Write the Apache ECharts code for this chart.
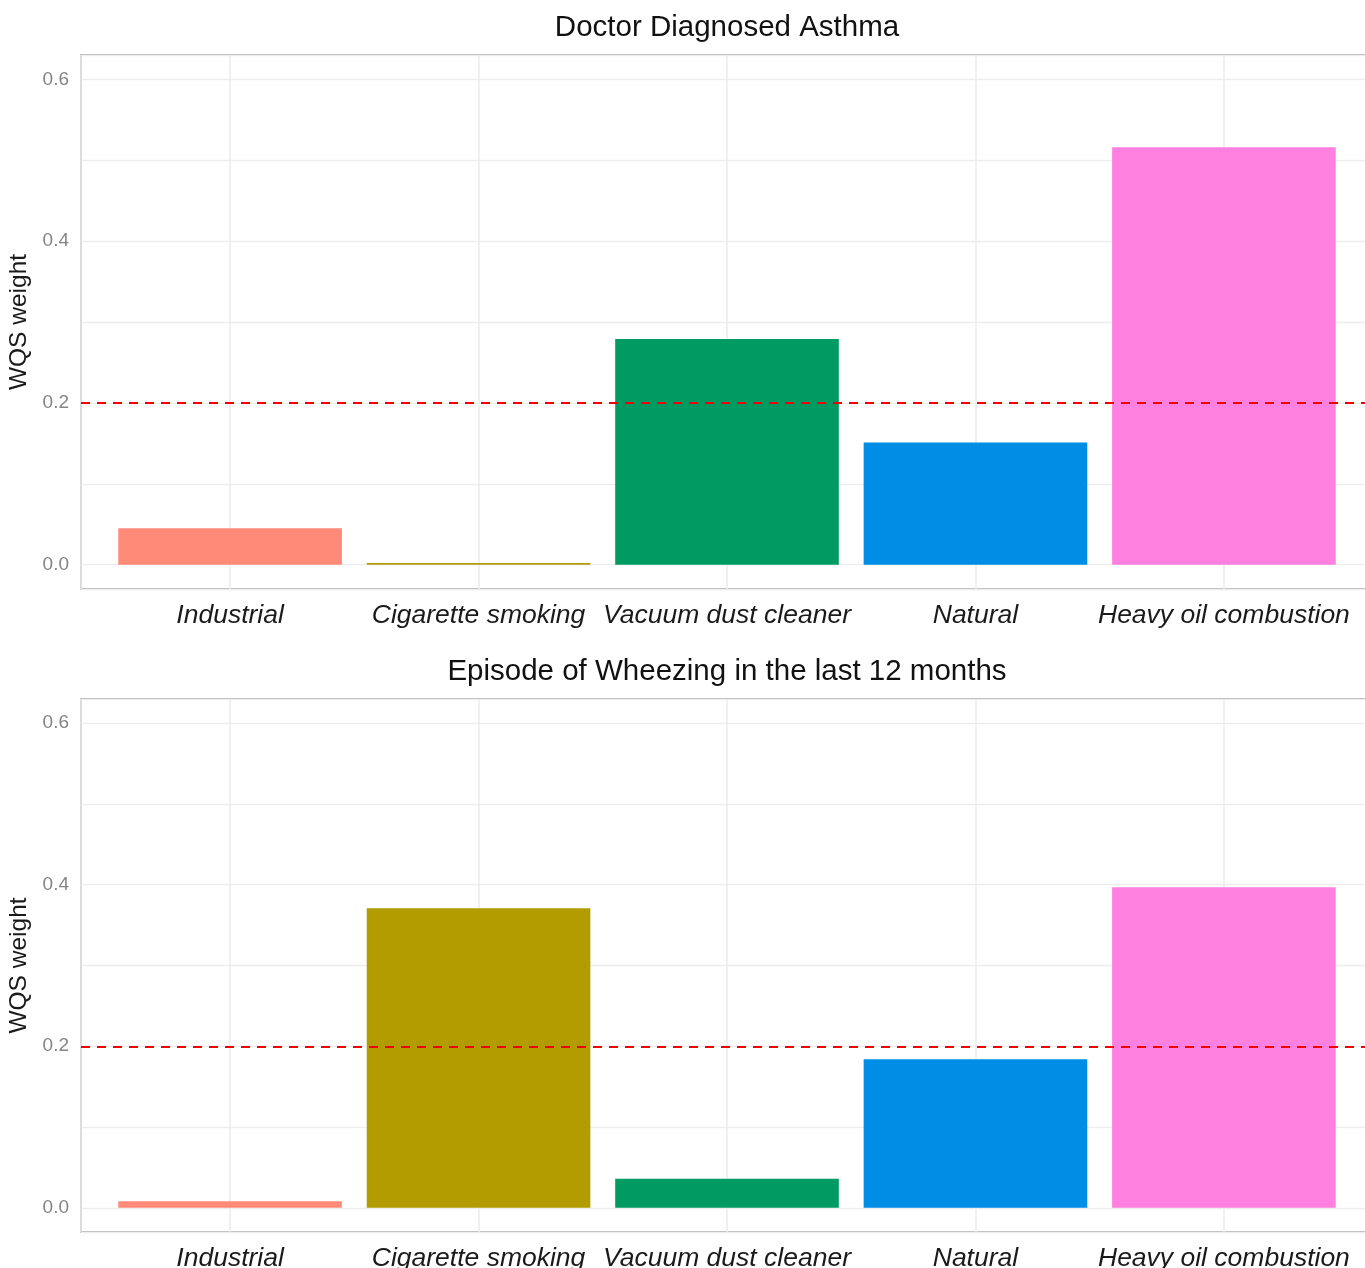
<!DOCTYPE html>
<html>
<head>
<meta charset="utf-8">
<title>WQS weights</title>
<script src="https://cdn.jsdelivr.net/npm/echarts@6/dist/echarts.min.js"></script>
<style>
  html, body { margin: 0; padding: 0; background: #ffffff; }
  #chart { width: 1365px; height: 1268px; }
</style>
</head>
<body>
<div id="chart"></div>
<script>
// Exposure sources on the x axis
const categories = ['Industrial', 'Cigarette smoking', 'Vacuum dust cleaner', 'Natural', 'Heavy oil combustion'];
// WQS weights per outcome
const asthmaWeights = [0.045, 0.002, 0.279, 0.151, 0.516];
const wheezeWeights = [0.008, 0.371, 0.036, 0.184, 0.397];
const panelTitles = ['Doctor Diagnosed Asthma', 'Episode of Wheezing in the last 12 months'];
// Equal-weight reference line (1 / number of components)
const threshold = 0.2;
// Labelled y ticks
const yTickLabels = [0.0, 0.2, 0.4, 0.6];

const palette = ['#FF8A78', '#B39C00', '#009A63', '#008DE6', '#FF80DF'];
const FONT = '"Liberation Sans", Arial, sans-serif';

const panels = [
  { title: panelTitles[0], values: asthmaWeights, top: 55, height: 534, titleY: 28 },
  { title: panelTitles[1], values: wheezeWeights, top: 699, height: 533, titleY: 672 }
];

function xLabel(v) {
  const k = Math.round(v);
  if (Math.abs(v - k) > 1e-6 || k < 1 || k > categories.length) return '';
  return categories[k - 1];
}
function yLabel(v) {
  for (const t of yTickLabels) {
    if (Math.abs(v - t) < 1e-6) return t.toFixed(1);
  }
  return '';
}

const chart = echarts.init(document.getElementById('chart'), null, { renderer: 'canvas' });

const option = {
  animation: false,
  backgroundColor: '#ffffff',
  textStyle: { fontFamily: FONT },
  graphic: panels.map(p => ({
    type: 'text',
    x: 727,
    y: p.titleY,
    style: {
      text: p.title,
      fill: '#111111',
      font: '29.5px ' + FONT,
      textAlign: 'center',
      textVerticalAlign: 'middle'
    }
  })),
  grid: panels.map(p => ({
    left: 81,
    width: 1292,
    top: p.top,
    height: p.height,
    outerBoundsMode: 'none',
    containLabel: false,
    show: true,
    borderColor: '#9a9a9a',
    borderWidth: 1.6,
    backgroundColor: '#ffffff'
  })),
  xAxis: panels.map((p, i) => ({
    type: 'value',
    gridIndex: i,
    min: 0.4,
    max: 5.6,
    splitNumber: 5,
    axisLine: { show: false },
    axisTick: { show: false },
    splitLine: { show: true, lineStyle: { color: '#ebebeb', width: 1.5 } },
    axisLabel: {
      formatter: xLabel,
      margin: 13,
      fontSize: 26.5,
      fontStyle: 'italic',
      color: '#1a1a1a',
      fontFamily: FONT
    }
  })),
  yAxis: panels.map((p, i) => ({
    type: 'value',
    gridIndex: i,
    min: -0.03,
    max: 0.63,
    splitNumber: 6,
    name: 'WQS weight',
    nameLocation: 'middle',
    nameGap: 40,
    nameTextStyle: { fontSize: 24.5, color: '#1a1a1a', fontFamily: FONT },
    axisLine: { show: false },
    axisTick: { show: false },
    splitLine: { show: true, lineStyle: { color: '#ededed', width: 1.3 } },
    axisLabel: {
      formatter: yLabel,
      margin: 12,
      fontSize: 19,
      color: '#858585',
      fontFamily: FONT
    }
  })),
  series: panels.map((p, i) => ({
    type: 'bar',
    xAxisIndex: i,
    yAxisIndex: i,
    barWidth: '90%',
    data: p.values.map((v, k) => ({ value: [k + 1, v], itemStyle: { color: palette[k] } })),
    markLine: {
      silent: true,
      symbol: ['none', 'none'],
      label: { show: false },
      lineStyle: { color: '#f00000', type: [9, 7], width: 1.9, opacity: 1 },
      data: [{ yAxis: threshold }]
    }
  }))
};

chart.setOption(option);
</script>
</body>
</html>
